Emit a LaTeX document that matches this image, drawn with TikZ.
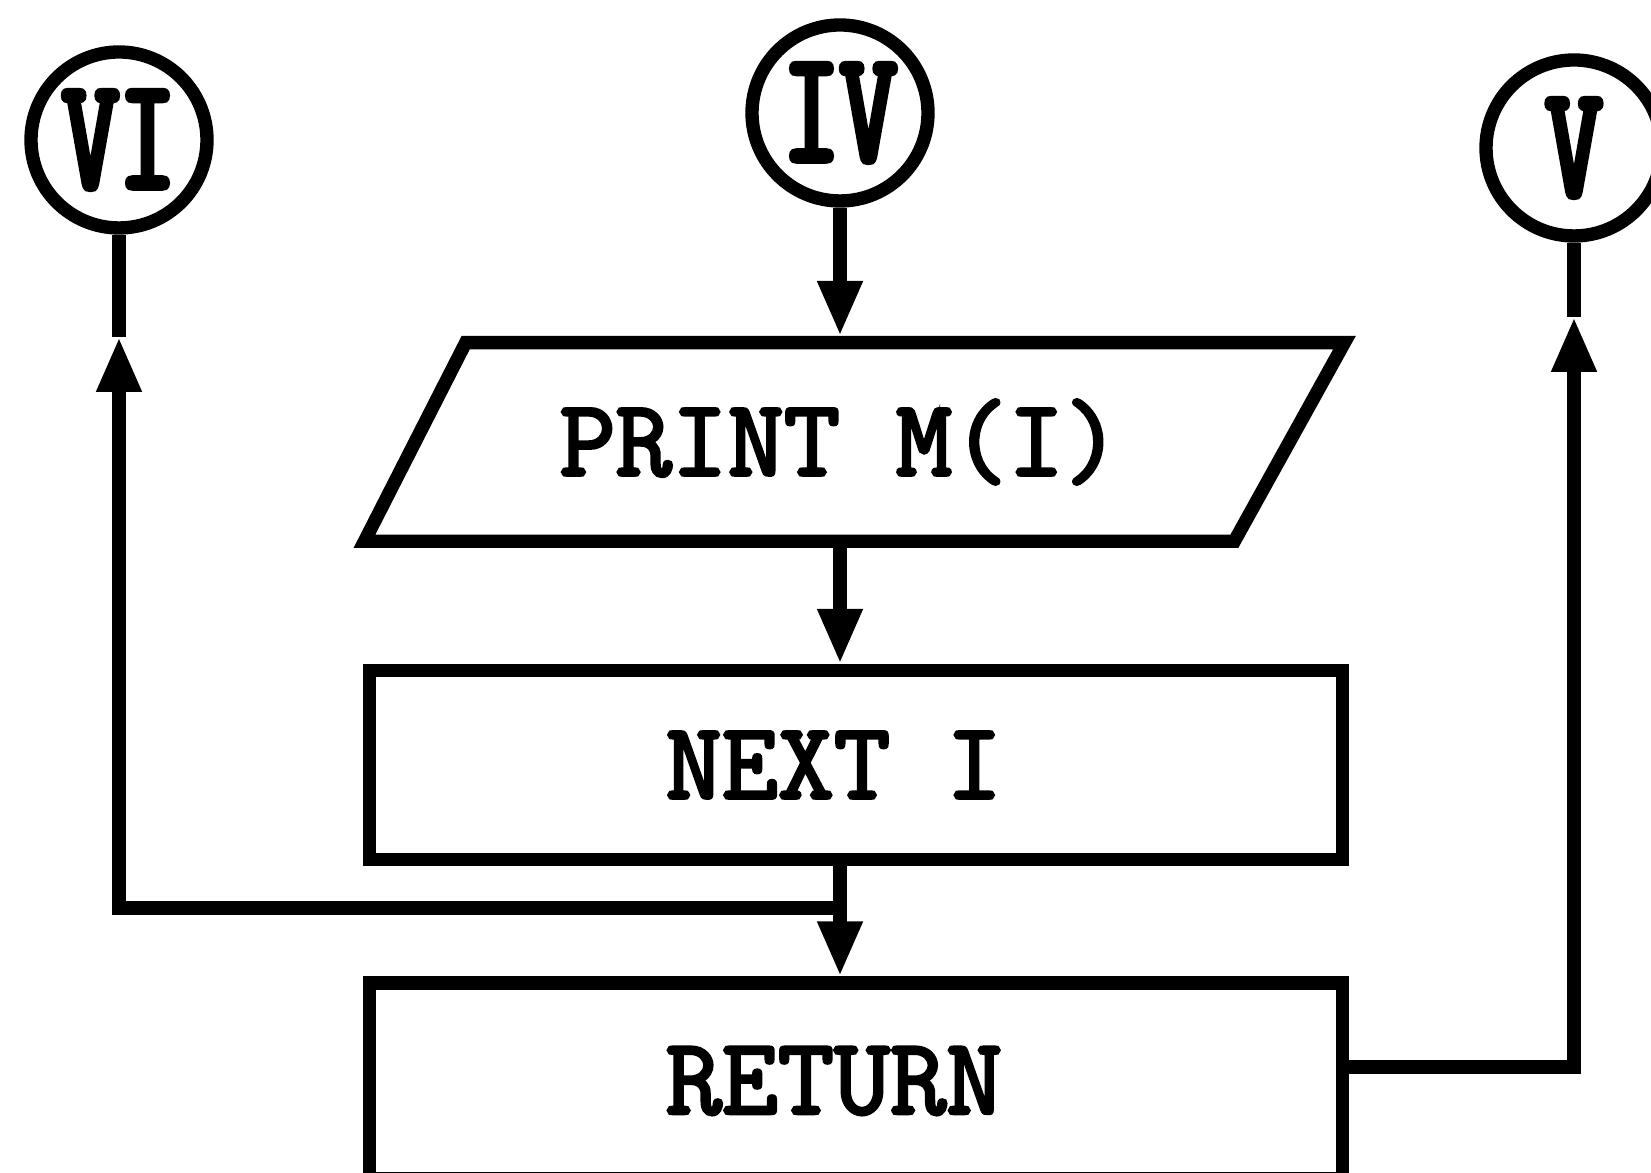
\documentclass[tikz,border=0pt]{standalone}
\usepackage{fontspec}
\newfontfamily\ringfont[FakeStretch=0.7,FakeBold=4]{Latin Modern Mono}
\newfontfamily\boxfont[FakeBold=3]{Latin Modern Mono}
\usepackage{tikz}
\usetikzlibrary{shapes.geometric, arrows.meta}

\tikzset{
    conn/.style={draw, circle, minimum size=1.76cm, inner sep=0pt,
        font=\ringfont\fontsize{45}{47}\selectfont},
    procbox/.style={draw, rectangle, minimum width=9.73cm, minimum height=1.89cm,
        font=\boxfont\fontsize{31}{34}\selectfont,
        execute at begin node=\hspace*{-0.44cm}},
    iobox/.style={draw, trapezium, trapezium left angle=63, trapezium right angle=119,
        trapezium stretches body=true, minimum width=9.8cm, inner ysep=0.57cm,
        font=\boxfont\fontsize{31}{34}\selectfont,
        execute at begin node=\hspace*{-0.2cm}},
    flow/.style={-{Triangle[length=0.55cm, width=0.42cm]}}
}

\begin{document}
\begin{tikzpicture}[line width=3.8pt]
    \useasboundingbox (0,0) rectangle (16.51,11.73);

    % Connectors
    \node[conn] (vi) at (1.19,10.33) {VI};
    \node[conn] (iv) at (8.40,10.60) {IV};
    \node[conn] (v) at (15.74,10.25) {V};

    % Boxes
    \node[iobox] (prt) at (8.50,7.31) {PRINT M(I)};
    \node[procbox] (next) at (8.56,4.08) {NEXT I};
    \node[procbox, minimum height=1.96cm] (ret) at (8.56,0.92) {RETURN};

    \coordinate (join) at (8.40,2.65);
    \coordinate (vitip) at (1.19,8.36);
    \coordinate (vtip) at (15.74,8.56);

    % Flow lines
    \draw[flow] (iv.south) -- (iv.south |- prt.north);
    \draw[flow] (iv.south |- prt.south) -- (iv.south |- next.north);
    \draw[flow] (iv.south |- next.south) -- (iv.south |- ret.north);
    \draw[flow] (join) -| (vitip);
    \draw (vitip) -- (vi.south);
    \draw[flow] ([yshift=4pt]ret.east) -| (vtip);
    \draw (vtip) -- (v.south);
\end{tikzpicture}
\end{document}
